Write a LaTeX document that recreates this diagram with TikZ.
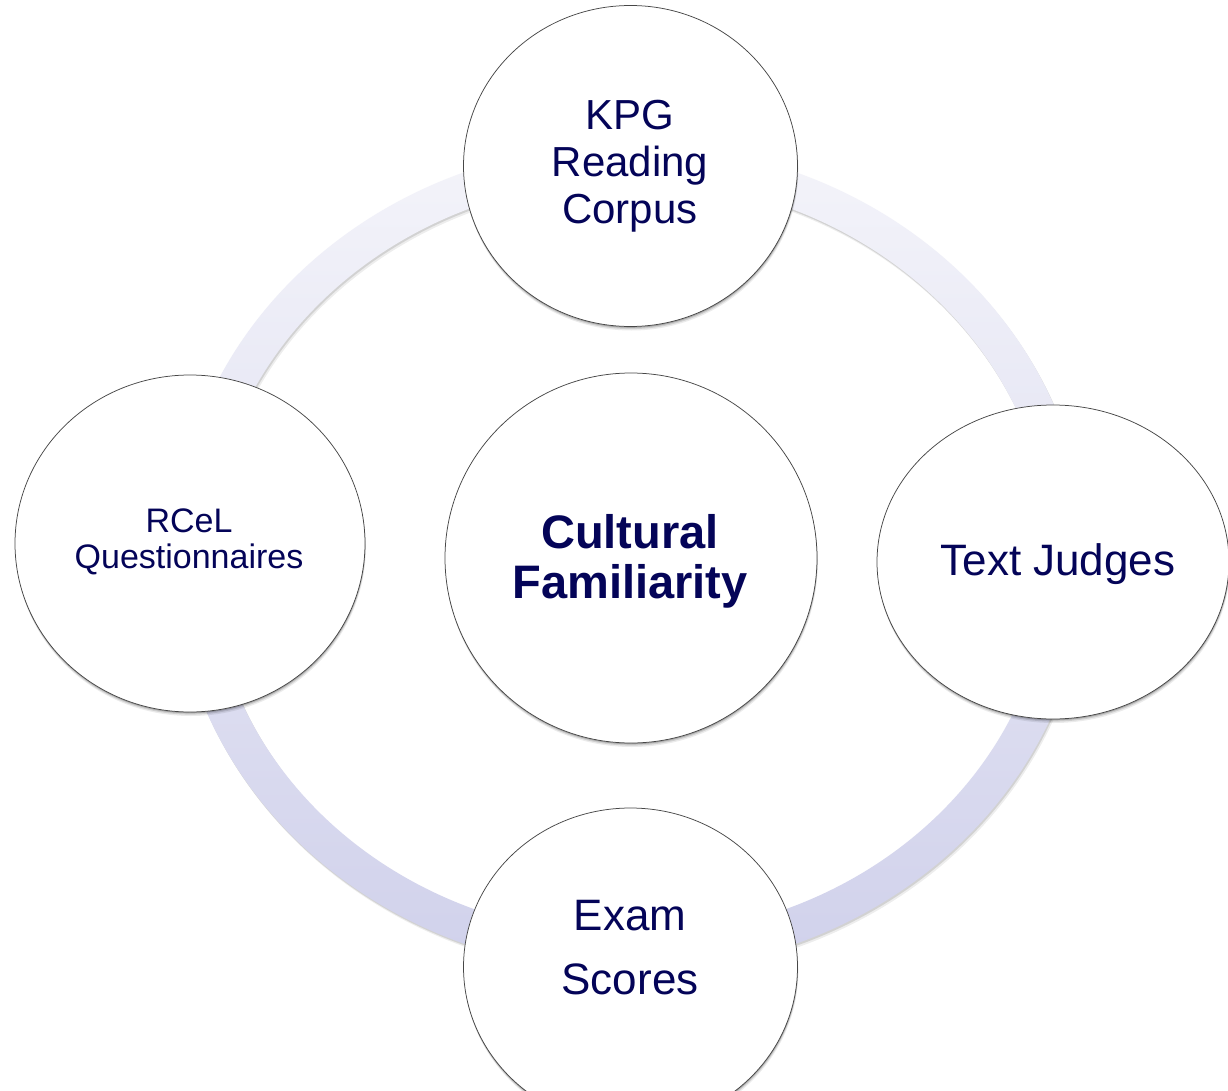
\documentclass[tikz,border=0pt]{standalone}
\usepackage{fontspec}
\setmainfont{Liberation Sans}
\usetikzlibrary{shapes.geometric}
\definecolor{txtnavy}{RGB}{4,4,88}
\definecolor{ringtop}{RGB}{244,244,250}
\definecolor{ringbot}{RGB}{208,209,235}
\begin{document}
\begin{tikzpicture}[x=1pt,y=-1pt,
  bubble/.style={ellipse, fill=white, draw=black!72, line width=0.75pt, inner sep=0pt,
    preaction={fill=black, opacity=0.08, transform canvas={xshift=0.8pt, yshift=-4pt}},
    preaction={fill=black, opacity=0.12, transform canvas={xshift=0.5pt, yshift=-2.6pt}},
    preaction={fill=black, opacity=0.18, transform canvas={xshift=0.3pt, yshift=-1.3pt}}},
  lbl/.style={text=txtnavy, align=center, inner sep=0pt},
]
\useasboundingbox (0,0) rectangle (1228,1091);
\fill[white] (0,0) rectangle (1228,1091);
\clip (0,0) rectangle (1228,1091);
% ring shadow
\fill[black, opacity=0.07, even odd rule, shift={(2,3.5)}]
  (630,558) ellipse [x radius=456pt, y radius=414pt]
  (630,558) ellipse [x radius=420pt, y radius=378pt];
\fill[black, opacity=0.11, even odd rule, shift={(1,1.8)}]
  (630,558) ellipse [x radius=456pt, y radius=414pt]
  (630,558) ellipse [x radius=420pt, y radius=378pt];
% ring
\shade[top color=ringtop, bottom color=ringbot, even odd rule]
  (630,558) ellipse [x radius=456pt, y radius=414pt]
  (630,558) ellipse [x radius=420pt, y radius=378pt];
% bubbles
\node[bubble, minimum width=372pt, minimum height=370pt] (cf) at (631,558) {};
\node[bubble, minimum width=334pt, minimum height=321pt] (kpg) at (630.5,166) {};
\node[bubble, minimum width=350pt, minimum height=337pt] (rcel) at (190,543.5) {};
\node[bubble, minimum width=352pt, minimum height=314pt] (tj) at (1053,562) {};
\node[bubble, minimum width=334pt, minimum height=318pt] (es) at (630.5,967) {};
% labels
\node[lbl, font=\fontsize{47}{50}\selectfont\bfseries] (cftxt) at (630,561) {Cultural\\Familiarity};
\node[lbl, font=\fontsize{42}{47}\selectfont] (kpgtxt) at (630,166) {KPG\\Reading\\Corpus};
\node[lbl, font=\fontsize{34}{36}\selectfont] (rceltxt) at (189,542) {RCeL\\Questionnaires};
\node[lbl, font=\fontsize{44}{50}\selectfont] (tjtxt) at (1058,564) {Text Judges};
\node[lbl, font=\fontsize{44}{64}\selectfont] (estxt) at (630,948) {Exam\\Scores};
\end{tikzpicture}
\end{document}
